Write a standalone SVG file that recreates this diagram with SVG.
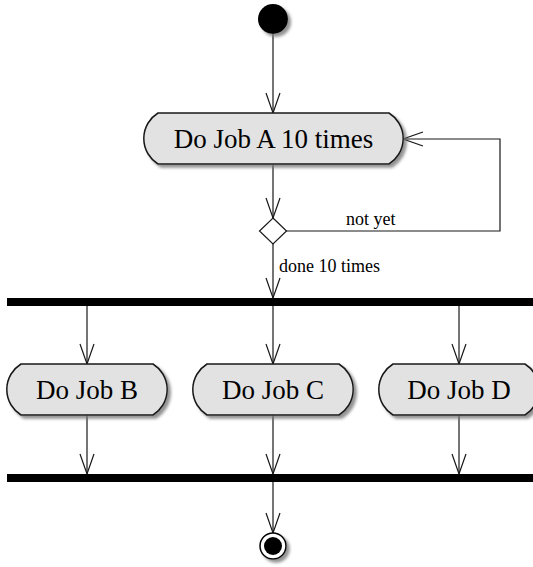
<svg xmlns="http://www.w3.org/2000/svg" width="533" height="567" viewBox="0 0 533 567">
  <style>
    .act { fill: #E2E2E2; stroke: #181818; stroke-width: 1.5; filter: url(#shadow); }
    .actText { font-family: "Liberation Serif", "Times New Roman", serif; font-size: 27px; fill: #000; text-anchor: middle; }
    .lbl { font-family: "Liberation Serif", "Times New Roman", serif; font-size: 18px; fill: #000; }
    .conn { fill: none; stroke: #181818; stroke-width: 1.2; marker-end: url(#arrow); }
    .bar { fill: #000; }
  </style>
  <defs>
    <filter id="shadow" x="-20%" y="-20%" width="140%" height="150%">
      <feDropShadow dx="3" dy="3" stdDeviation="1.5" flood-color="#777" flood-opacity="0.8"/>
    </filter>
    <marker id="arrow" markerUnits="userSpaceOnUse" markerWidth="24" markerHeight="18" viewBox="-2 -2 24 18" refX="20" refY="7" orient="auto">
      <path d="M0,0 L20,7 L0,14" fill="none" stroke="#181818" stroke-width="1.2"/>
    </marker>
  </defs>
  <rect width="533" height="567" fill="#fff"/>

  <g id="connectors">
    <path class="conn" d="M273,34 V113"/>
    <path class="conn" d="M273,164 V218"/>
    <path class="conn" d="M286,231 H500 V139 H403"/>
    <path class="conn" d="M273,244 V298"/>
    <path class="conn" d="M87,306 V364"/>
    <path class="conn" d="M273,306 V364"/>
    <path class="conn" d="M459,306 V364"/>
    <path class="conn" d="M87,415 V474"/>
    <path class="conn" d="M273,415 V474"/>
    <path class="conn" d="M459,415 V474"/>
    <path class="conn" d="M273,482 V533"/>
    <text class="lbl" x="346" y="225">not yet</text>
    <text class="lbl" x="279" y="272">done 10 times</text>
  </g>

  <g id="start">
    <circle cx="273" cy="19" r="15" fill="#000" filter="url(#shadow)"/>
  </g>

  <g id="jobA">
    <path class="act" d="M158,113 H389 A30,30 0 0 1 389,164 H158 A30,30 0 0 1 158,113 Z"/>
    <text class="actText" x="273.5" y="148">Do Job A 10 times</text>
  </g>

  <g id="decision">
    <path d="M273,218 L286.5,231 L273,244 L259.5,231 Z" fill="#fff" stroke="#181818" stroke-width="1.2"/>
  </g>

  <g id="fork">
    <rect class="bar" x="7" y="298" width="530" height="8"/>
  </g>

  <g id="jobB">
    <path class="act" d="M21,364 H153 A30,30 0 0 1 153,415 H21 A30,30 0 0 1 21,364 Z"/>
    <text class="actText" x="87" y="398.5">Do Job B</text>
  </g>

  <g id="jobC">
    <path class="act" d="M207,364 H339 A30,30 0 0 1 339,415 H207 A30,30 0 0 1 207,364 Z"/>
    <text class="actText" x="273" y="398.5">Do Job C</text>
  </g>

  <g id="jobD">
    <path class="act" d="M393,364 H525 A30,30 0 0 1 525,415 H393 A30,30 0 0 1 393,364 Z"/>
    <text class="actText" x="459" y="398.5">Do Job D</text>
  </g>

  <g id="join">
    <rect class="bar" x="7" y="474" width="530" height="8"/>
  </g>

  <g id="end">
    <circle cx="273" cy="546" r="13" fill="#fff" stroke="#000" stroke-width="1.5" filter="url(#shadow)"/>
    <circle cx="273" cy="546" r="9" fill="#000"/>
  </g>
</svg>
